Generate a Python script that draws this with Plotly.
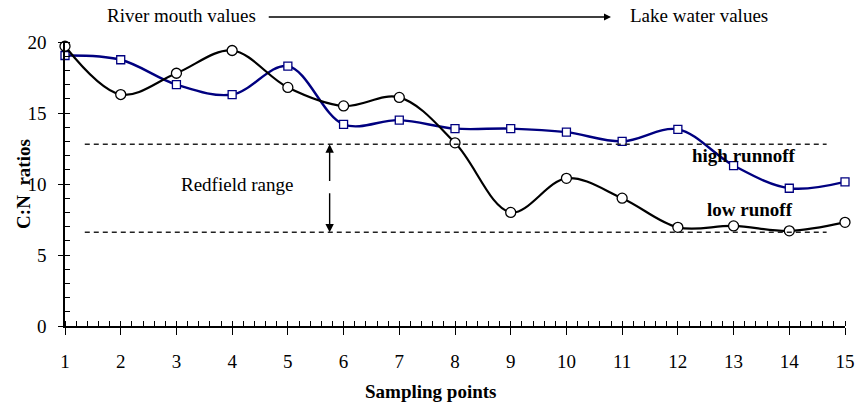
import plotly.graph_objects as go

# Sampling stations along the river-to-lake transect
sampling_points = list(range(1, 16))

# C:N ratios at each station
high_runoff = [19.05, 18.75, 17.0, 16.3, 18.3, 14.2, 14.5, 13.9, 13.9, 13.65,
               13.0, 13.85, 11.3, 9.7, 10.15]
low_runoff = [19.7, 16.3, 17.8, 19.4, 16.8, 15.5, 16.1, 12.9, 8.0, 10.4,
              9.0, 6.95, 7.05, 6.7, 7.3]

# Redfield C:N range limits
redfield_low = 6.6
redfield_high = 12.8

y_ticks = [0, 5, 10, 15, 20]
x_ticks = sampling_points

FONT = "Liberation Serif"
NAVY = "#000080"
TEXT_FONT = dict(family=FONT, size=19, color="black")

fig = go.Figure()

fig.add_trace(go.Scatter(
    x=sampling_points, y=high_runoff, mode="lines+markers",
    line=dict(color=NAVY, width=2.4, shape="spline", smoothing=1.0),
    marker=dict(symbol="square", size=8, color="white",
                line=dict(color=NAVY, width=1.3)),
    cliponaxis=False, showlegend=False, name="high runnoff",
))
fig.add_trace(go.Scatter(
    x=sampling_points, y=low_runoff, mode="lines+markers",
    line=dict(color="black", width=2.2, shape="spline", smoothing=1.0),
    marker=dict(symbol="circle", size=10, color="white",
                line=dict(color="black", width=1.3)),
    cliponaxis=False, showlegend=False, name="low runoff",
))

# Dashed lines bounding the Redfield range
for level in (redfield_low, redfield_high):
    fig.add_shape(type="line", xref="x", yref="y",
                  x0=1.355, x1=14.67, y0=level, y1=level,
                  line=dict(color="#222222", width=1.5, dash="5px,4px"))

# Double-headed arrow marking the range
arrow_x = 5.75
mid_top, mid_bot = 10.1, 9.45
fig.add_annotation(x=arrow_x, y=redfield_high, ax=arrow_x, ay=mid_top,
                   xref="x", yref="y", axref="x", ayref="y", text="",
                   showarrow=True, arrowhead=2, arrowsize=1.2, arrowwidth=1.4,
                   arrowcolor="black")
fig.add_annotation(x=arrow_x, y=redfield_low, ax=arrow_x, ay=mid_bot,
                   xref="x", yref="y", axref="x", ayref="y", text="",
                   showarrow=True, arrowhead=2, arrowsize=1.2, arrowwidth=1.4,
                   arrowcolor="black")

def label(x, y, text, xref="x", yref="y", **kw):
    fig.add_annotation(x=x, y=y, xref=xref, yref=yref, text=text,
                       showarrow=False, xanchor="center", yanchor="middle",
                       font=TEXT_FONT, **kw)

label(4.08, 9.93, "Redfield range")
label(13.18, 12.04, "<b>high runnoff</b>")
label(13.29, 8.17, "<b>low runoff</b>")

# Transect direction above the plot
label(3.09, 1.095, "River mouth values", yref="paper")
label(12.38, 1.095, "Lake water values", yref="paper")
fig.add_annotation(x=10.8, y=1.088, ax=4.63, ay=0, xref="x", yref="paper",
                   axref="x", ayref="pixel", text="", showarrow=True,
                   arrowhead=2, arrowsize=1.0, arrowwidth=1.4, arrowcolor="black")

# Axis titles
label(7.56, -0.232, "<b>Sampling points</b>", yref="paper")
label(-0.054, 10, "<b>C:N  ratios</b>", xref="paper", textangle=-90)

axis_common = dict(showgrid=False, zeroline=False, color="black",
                   tickfont=dict(family=FONT, size=19, color="black"))

fig.update_layout(
    width=867, height=409,
    margin=dict(l=65, r=12, t=42, b=83),
    paper_bgcolor="white", plot_bgcolor="white",
    font=dict(family=FONT, color="black"),
    xaxis=dict(range=[1, 15], tickvals=x_ticks, ticks="outside", ticklen=7,
               tickwidth=1.3, showline=True, linewidth=1.5, linecolor="black",
               ticklabelstandoff=10,
               minor=dict(dtick=0.2, ticks="inside", ticklen=5, tickwidth=1.1,
                          tickcolor="black"),
               **axis_common),
    yaxis=dict(range=[0, 20], tickvals=y_ticks, ticks="outside", ticklen=5,
               tickwidth=1.3, showline=True, linewidth=1.5, linecolor="black",
               ticklabelstandoff=8,
               minor=dict(dtick=1, ticks="inside", ticklen=5, tickwidth=1.1,
                          tickcolor="black"),
               **axis_common),
    # Companion axes draw the inner half of the major ticks
    xaxis2=dict(overlaying="x", matches="x", range=[1, 15], tickvals=x_ticks,
                ticks="inside", ticklen=6, tickwidth=1.3, tickcolor="black",
                showticklabels=False, showline=False, showgrid=False,
                zeroline=False, side="bottom", anchor="y"),
    yaxis2=dict(overlaying="y", matches="y", range=[0, 20], tickvals=y_ticks,
                ticks="inside", ticklen=5, tickwidth=1.3, tickcolor="black",
                showticklabels=False, showline=False, showgrid=False,
                zeroline=False, side="left", anchor="x"),
)

fig.write_html("out.html")
